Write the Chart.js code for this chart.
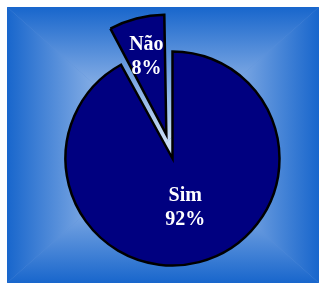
<!DOCTYPE html>
<html><head><meta charset="utf-8">
<script src="https://cdn.jsdelivr.net/npm/chart.js@4"></script>
<style>html,body{margin:0;padding:0;background:#fff}#wrap{width:319px;height:284px}</style>
</head><body><div id="wrap"><canvas id="c" width="319" height="284"></canvas></div>
<script>
const categories = ['Sim', 'Não'];
const values = [92, 8];
const percentLabels = ['92%', '8%'];

const bgPlugin = {
  id: 'bgGrad',
  beforeDraw(chart) {
    const ctx = chart.ctx;
    const x0 = 7, y0 = 7, x1 = 319, y1 = 283;
    const cx = (x0 + x1) / 2, cy = (y0 + y1) / 2;
    const edge = '#1866cc', mid = '#6f9fe0', center = '#cfe1f5';
    ctx.save();
    ctx.fillStyle = '#5a8fda';
    ctx.fillRect(x0, y0, x1 - x0, y1 - y0);
    const tris = [
      [[x0, y0], [x1, y0], [x0, y0, x0, cy]],
      [[x1, y1], [x0, y1], [x0, y1, x0, cy]],
      [[x0, y0], [x0, y1], [x0, y0, cx, y0]],
      [[x1, y0], [x1, y1], [x1, y0, cx, y0]]
    ];
    for (const [p1, p2, g] of tris) {
      const grad = ctx.createLinearGradient(g[0], g[1], g[2], g[3]);
      grad.addColorStop(0, edge);
      grad.addColorStop(0.45, mid);
      grad.addColorStop(1, center);
      ctx.fillStyle = grad;
      ctx.beginPath();
      ctx.moveTo(p1[0], p1[1]);
      ctx.lineTo(p2[0], p2[1]);
      ctx.lineTo(cx, cy);
      ctx.closePath();
      ctx.fill();
    }
    ctx.restore();
  }
};

const labelPlugin = {
  id: 'sliceLabels',
  afterDatasetsDraw(chart, args, opts) {
    const ctx = chart.ctx;
    const meta = chart.getDatasetMeta(0);
    const ds = chart.data.datasets[0];
    ctx.save();
    ctx.fillStyle = '#ffffff';
    ctx.font = 'bold 20px "Liberation Serif", "Times New Roman", serif';
    ctx.textAlign = 'center';
    ctx.textBaseline = 'middle';
    meta.data.forEach((arc, i) => {
      const p = arc.getProps(['x', 'y', 'startAngle', 'endAngle', 'outerRadius', 'circumference'], true);
      const midA = (p.startAngle + p.endAngle) / 2;
      const off = (ds.offset[i] || 0) / 4;
      const fix = 1 - Math.sin(Math.min(Math.PI, p.circumference || 0));
      const t = off * (1 + fix);
      const r = p.outerRadius * opts.fractions[i];
      const px = p.x + Math.cos(midA) * (t + r);
      const py = p.y + Math.sin(midA) * (t + r);
      ctx.fillText(chart.data.labels[i], px, py - 12);
      ctx.fillText(percentLabels[i], px, py + 12);
    });
    ctx.restore();
  }
};

new Chart(document.getElementById('c'), {
  type: 'pie',
  data: {
    labels: categories,
    datasets: [{
      data: values,
      backgroundColor: '#000080',
      borderColor: '#000000',
      borderWidth: 2.5,
      borderJoinStyle: 'miter',
      offset: [0, 99]
    }]
  },
  options: {
    responsive: false,
    animation: false,
    radius: 107,
    layout: { padding: { left: 26, right: 0, top: 33, bottom: 0 } },
    plugins: {
      legend: { display: false },
      tooltip: { enabled: false },
      sliceLabels: { fractions: [0.48, 0.63] }
    }
  },
  plugins: [bgPlugin, labelPlugin]
});
</script>
</body></html>
